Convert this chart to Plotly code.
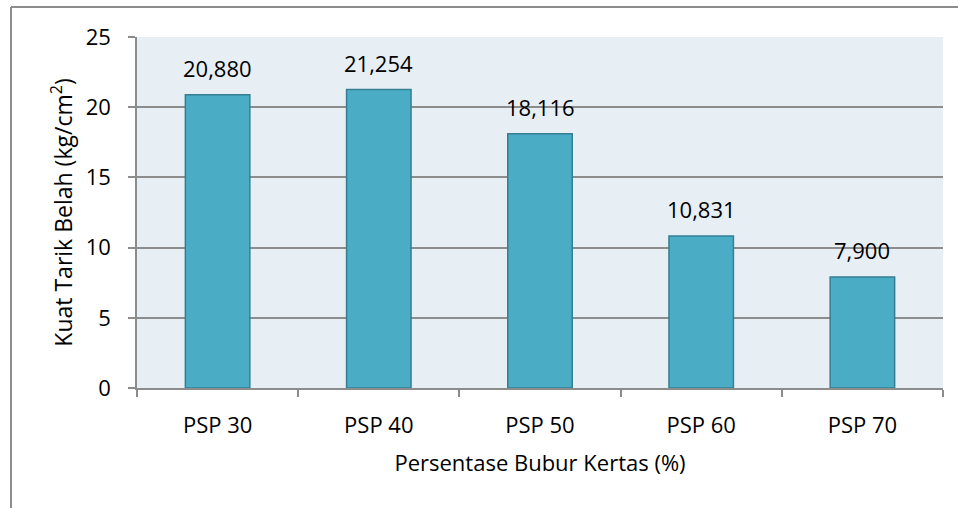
import plotly.graph_objects as go

categories = ["PSP 30", "PSP 40", "PSP 50", "PSP 60", "PSP 70"]
values = [20.880, 21.254, 18.116, 10.831, 7.900]
y_ticks = [0, 5, 10, 15, 20, 25]

FONT = "Open Sans"
GRID = "#8c8c8c"

fig = go.Figure()
fig.add_trace(go.Bar(
    x=categories, y=values, width=0.4,
    marker=dict(color="#4bacc6", line=dict(color="#357f94", width=1.5)),
    showlegend=False,
))

for c, v in zip(categories, values):
    fig.add_annotation(
        x=c, y=v, text=f"{v:.3f}".replace(".", ","),
        showarrow=False, yanchor="bottom", yshift=10,
        font=dict(family=FONT, size=22, color="#000000"),
    )

px0, px1 = 137, 943
pt, pb = 37, 388
def xp(p): return (p - px0) / (px1 - px0)
def yp(p): return (pb - p) / (pb - pt)

fig.add_shape(type="line", xref="paper", yref="paper",
              x0=xp(11), x1=xp(11), y0=yp(520), y1=yp(7),
              line=dict(color=GRID, width=2))
fig.add_shape(type="line", xref="paper", yref="paper",
              x0=xp(11), x1=xp(958), y0=yp(7), y1=yp(7),
              line=dict(color=GRID, width=2))

fig.update_layout(
    width=959, height=508,
    margin=dict(l=137, r=16, t=37, b=120),
    paper_bgcolor="#ffffff",
    plot_bgcolor="#e8eff4",
    separators=",.",
    font=dict(family=FONT, size=22, color="#000000"),
    xaxis=dict(
        type="category",
        tickson="boundaries",
        ticks="outside", ticklen=7, tickcolor=GRID, tickwidth=1.5,
        showline=True, linecolor=GRID, linewidth=1.5,
        showgrid=False,
        tickfont=dict(family=FONT, size=22),
        ticklabelstandoff=17,
        title=dict(text="Persentase Bubur Kertas (%)", font=dict(family=FONT, size=22), standoff=17),
    ),
    yaxis=dict(
        range=[0, 25], tickvals=y_ticks,
        ticks="outside", ticklen=7, tickcolor=GRID, tickwidth=1.5,
        showline=True, linecolor=GRID, linewidth=1.5,
        showgrid=True, gridcolor=GRID, gridwidth=1.5,
        zeroline=False,
        tickfont=dict(family=FONT, size=22),
        ticklabelstandoff=13,
        title=dict(text="Kuat Tarik Belah (kg/cm<sup>2</sup>)", font=dict(family=FONT, size=23), standoff=7),
    ),
)

fig.write_html("out.html", config={"displayModeBar": False},
               post_script="document.body.style.margin='0';")
